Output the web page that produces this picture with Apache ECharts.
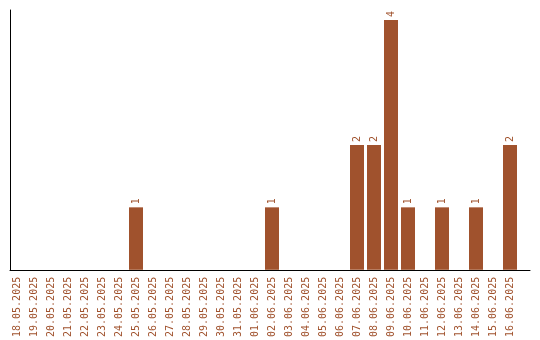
<!DOCTYPE html>
<html><head><meta charset="utf-8">
<script src="https://cdn.jsdelivr.net/npm/echarts@6/dist/echarts.min.js"></script>
<style>html,body{margin:0;padding:0;background:#fff}#c{width:540px;height:340px}</style>
</head><body><div id="c"></div>
<script>
const categories = ["18.05.2025","19.05.2025","20.05.2025","21.05.2025","22.05.2025","23.05.2025","24.05.2025","25.05.2025","26.05.2025","27.05.2025","28.05.2025","29.05.2025","30.05.2025","31.05.2025","01.06.2025","02.06.2025","03.06.2025","04.06.2025","05.06.2025","06.06.2025","07.06.2025","08.06.2025","09.06.2025","10.06.2025","11.06.2025","12.06.2025","13.06.2025","14.06.2025","15.06.2025","16.06.2025"];
const counts = [0,0,0,0,0,0,0,1,0,0,0,0,0,0,0,1,0,0,0,0,2,2,4,1,0,1,0,1,0,2];
const yMax = 4.16;
const brown = '#a0522d';
const font = 'DejaVu Sans Mono';
const chart = echarts.init(document.getElementById('c'), null, {renderer:'canvas'});
chart.setOption({
  animation:false,
  backgroundColor:'#fff',
  grid:[
    {left:8.5, width:510, top:10, bottom:70},
    {left:10, right:10, top:10, bottom:70}
  ],
  xAxis:[
    {type:'category', gridIndex:0, data:categories, axisLine:{show:false}, axisTick:{show:false},
     axisLabel:{rotate:90, interval:0, color:brown, fontFamily:font, fontSize:10, margin:7}},
    {type:'value', gridIndex:1, min:0, max:1, axisLine:{show:true, lineStyle:{color:'#000', width:1}},
     axisTick:{show:false}, axisLabel:{show:false}, splitLine:{show:false}}
  ],
  yAxis:[
    {type:'value', gridIndex:0, min:0, max:yMax, axisLine:{show:false}, axisTick:{show:false}, axisLabel:{show:false}, splitLine:{show:false}},
    {type:'value', gridIndex:1, min:0, max:1, axisLine:{show:true, lineStyle:{color:'#000', width:1}}, axisTick:{show:false}, axisLabel:{show:false}, splitLine:{show:false}}
  ],
  series:[{
    type:'bar', xAxisIndex:0, yAxisIndex:0, data:counts.map(v => v === 0 ? null : v), barWidth:14,
    itemStyle:{color:brown},
    label:{show:true, position:'top', rotate:90, align:'left', verticalAlign:'middle', distance:3,
      color:brown, fontFamily:font, fontSize:10}
  }]
});
</script></body></html>
